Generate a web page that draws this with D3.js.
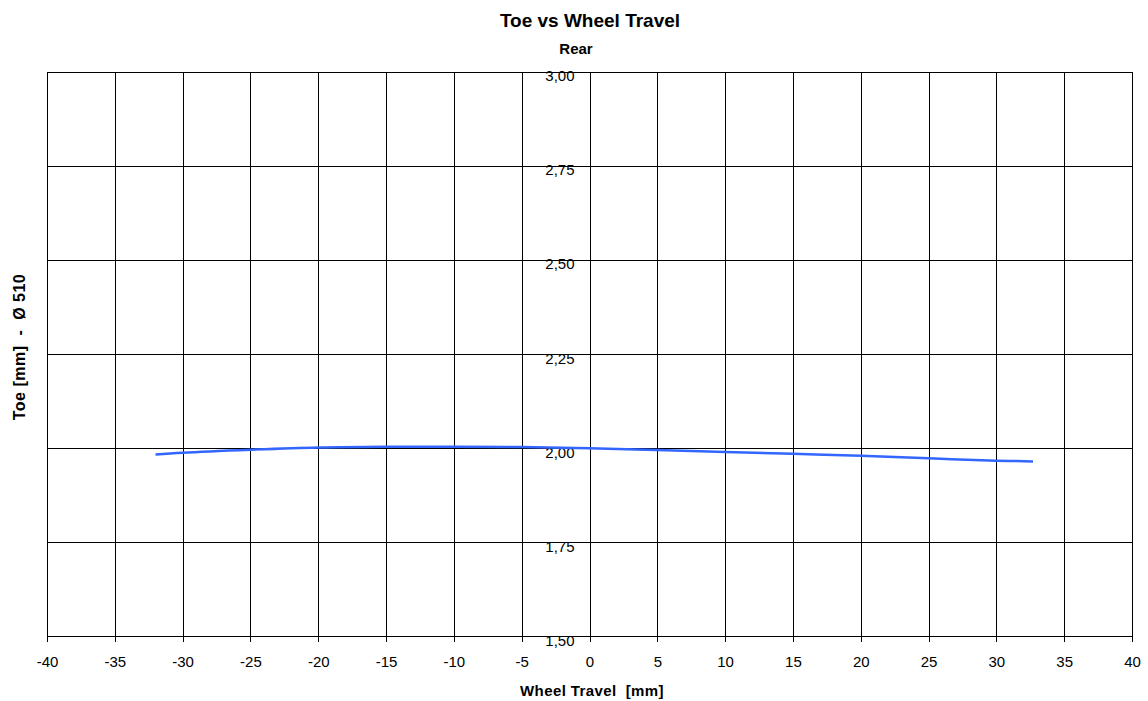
<!DOCTYPE html>
<html>
<head>
<meta charset="utf-8">
<script src="https://cdn.jsdelivr.net/npm/d3@7"></script>
<style>
    body { margin: 0; background: #fff; }
    text { font-family: "Liberation Sans", Arial, sans-serif; }
</style>
</head>
<body>
<svg id="chart" width="1148" height="701"></svg>
<script>
// wheel travel [mm] and toe [mm]
let travel = [-32, -30, -25, -20, -15, -10, -5, 0, 5, 10, 15, 20, 25, 30, 32.7];
let toe = [1.982, 1.987, 1.995, 2.001, 2.003, 2.003, 2.002, 1.999, 1.994, 1.989, 1.984, 1.979, 1.972, 1.966, 1.964];
let xTicks = [-40, -35, -30, -25, -20, -15, -10, -5, 0, 5, 10, 15, 20, 25, 30, 35, 40];
let yTicks = [1.5, 1.75, 2.0, 2.25, 2.5, 2.75, 3.0];

let svg = d3.select("#chart");
let plotLeft = 47, plotRight = 1132, plotTop = 71.5, plotBottom = 636;

let xScale = d3.scaleLinear().domain([-40, 40]).range([plotLeft, plotRight]);
let yScale = d3.scaleLinear().domain([1.5, 3]).range([plotBottom, plotTop]);

// vertical grid + bottom axis
let xAxis = svg.append("g")
    .attr("transform", "translate(0," + plotBottom + ")")
    .call(d3.axisBottom(xScale).tickValues(xTicks).tickSizeOuter(0).tickFormat(d => d));
xAxis.select(".domain").remove();
xAxis.selectAll(".tick line")
    .attr("stroke", "#000")
    .attr("y1", 6).attr("y2", -(plotBottom - plotTop))
    .attr("shape-rendering", "crispEdges");
xAxis.selectAll(".tick text")
    .attr("y", 26).attr("dy", "0.35em")
    .style("font-size", "15px").attr("fill", "#000");

// horizontal grid
let yGrid = svg.append("g")
    .attr("transform", "translate(" + plotLeft + ",0)")
    .call(d3.axisLeft(yScale).tickValues(yTicks).tickSize(-(plotRight - plotLeft)).tickFormat(""));
yGrid.select(".domain").remove();
yGrid.selectAll(".tick line").attr("stroke", "#000").attr("shape-rendering", "crispEdges");

// y labels sit on the x=0 line
let yLabels = svg.append("g")
    .attr("transform", "translate(" + xScale(0) + ",0)")
    .call(d3.axisLeft(yScale).tickValues(yTicks).tickSize(0).tickPadding(15)
        .tickFormat(d => d3.format(".2f")(d).replace(".", ",")));
yLabels.select(".domain").remove();
yLabels.selectAll(".tick text")
    .attr("dy", "0.62em")
    .style("font-size", "15px").attr("fill", "#000");

// curve
let line = d3.line()
    .x((d, i) => xScale(travel[i]))
    .y((d, i) => yScale(toe[i]))
    .curve(d3.curveCatmullRom);
svg.append("path")
    .datum(toe)
    .attr("d", line)
    .attr("fill", "none")
    .attr("stroke", "#3366ff")
    .attr("stroke-width", 2.5);

// titles
svg.append("text").attr("x", 590).attr("y", 20).attr("dy", "0.35em")
    .attr("text-anchor", "middle").style("font-size", "19px").style("font-weight", "bold")
    .text("Toe vs Wheel Travel");
svg.append("text").attr("x", 576).attr("y", 49).attr("dy", "0.35em")
    .attr("text-anchor", "middle").style("font-size", "15px").style("font-weight", "bold")
    .text("Rear");
svg.append("text").attr("x", 592).attr("y", 691).attr("dy", "0.35em")
    .attr("text-anchor", "middle").style("font-size", "15px").style("font-weight", "bold")
    .style("letter-spacing", "0.4px").style("white-space", "pre")
    .text("Wheel Travel  [mm]");
svg.append("text")
    .attr("transform", "translate(19,347) rotate(-90)")
    .attr("dy", "0.35em")
    .attr("text-anchor", "middle").style("font-size", "16px").style("font-weight", "bold")
    .style("letter-spacing", "0.5px").style("white-space", "pre")
    .text("Toe [mm]  -  Ø 510");
</script>
</body>
</html>
